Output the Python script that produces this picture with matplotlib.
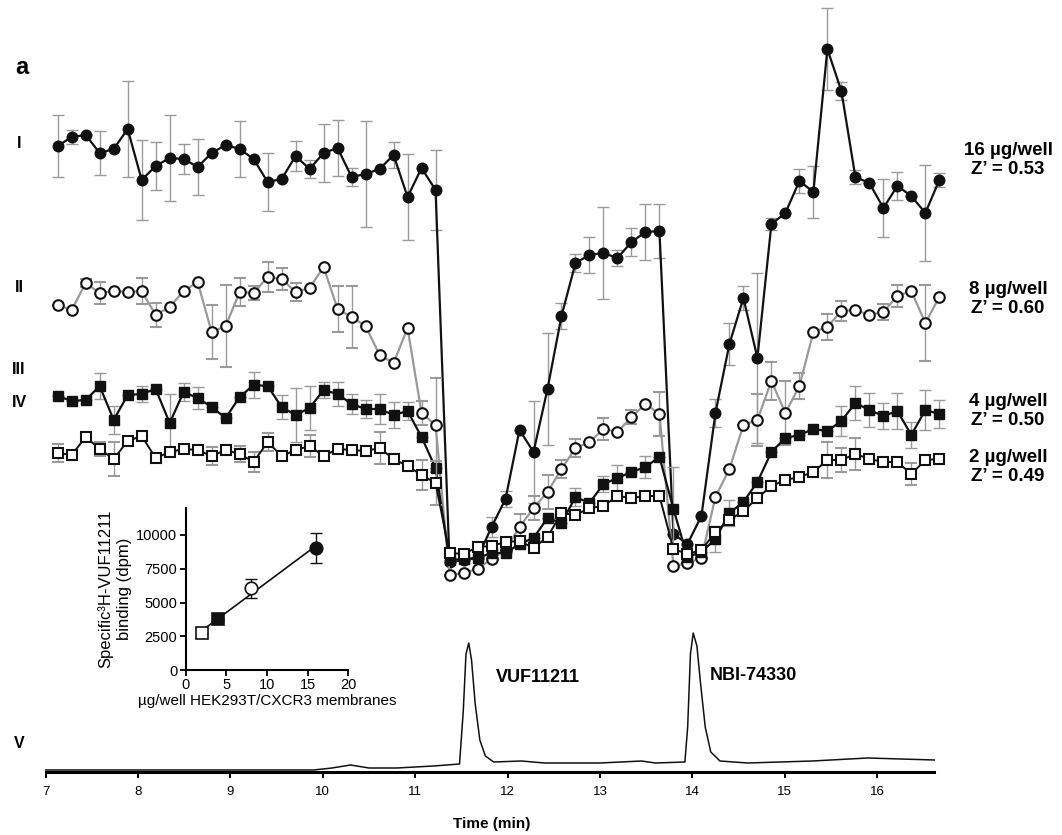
import numpy as np
import matplotlib
matplotlib.use("Agg")
import matplotlib.pyplot as plt

plt.rcParams["font.family"] = ["Liberation Sans", "DejaVu Sans"]

# fraction collection times (min)
t = 7.13 + 0.1515 * np.arange(64)

# binding signal per fraction, arbitrary display units (stacked traces)
sig_16 = [626, 635, 637, 619, 623, 643, 592, 606, 614, 613, 605, 619, 627, 623, 613, 590,
          593, 616, 603, 619, 624, 595, 598, 603, 617, 575, 604, 582, 210, 212, 214, 245,
          273, 342, 320, 383, 456, 509, 517, 519, 514, 530, 540, 541, 238, 228, 256, 359,
          428, 474, 414, 548, 559, 591, 580, 723, 681, 595, 589, 564, 586, 576, 559, 592]
err_16 = [31, 7, 0, 22, 0, 48, 40, 24, 43, 15, 28, 0, 0, 28, 0, 29,
          0, 15, 9, 29, 28, 9, 53, 0, 13, 43, 0, 40, 0, 0, 0, 10,
          8, 0, 51, 56, 13, 9, 18, 46, 8, 14, 28, 27, 0, 0, 0, 14,
          21, 12, 85, 6, 0, 12, 26, 41, 9, 7, 0, 29, 14, 0, 48, 7]

sig_8 = [467, 462, 489, 479, 481, 480, 481, 457, 465, 481, 490, 440, 446, 480, 479, 495,
         493, 480, 484, 505, 463, 455, 446, 417, 409, 444, 359, 347, 197, 199, 203, 213,
         222, 245, 264, 280, 303, 324, 330, 343, 340, 355, 368, 358, 206, 209, 214, 275,
         303, 347, 352, 391, 359, 386, 440, 445, 461, 462, 457, 460, 476, 481, 449, 475]
err_8 = [0, 0, 4, 11, 0, 0, 13, 12, 0, 0, 0, 27, 41, 14, 7, 15,
         11, 9, 0, 0, 23, 31, 0, 0, 0, 0, 12, 47, 0, 0, 0, 0,
         0, 13, 12, 17, 9, 9, 0, 11, 0, 7, 0, 22, 0, 0, 0, 0,
         0, 0, 26, 19, 32, 13, 0, 13, 10, 0, 0, 8, 11, 0, 38, 0]

sig_4 = [376, 371, 372, 386, 352, 377, 378, 383, 349, 380, 374, 365, 354, 375, 387, 386,
         365, 357, 364, 382, 378, 368, 363, 363, 357, 361, 335, 304, 212, 213, 214, 219,
         219, 228, 234, 254, 249, 275, 269, 288, 294, 300, 305, 315, 263, 215, 220, 233,
         259, 270, 290, 320, 334, 337, 343, 341, 351, 369, 362, 356, 361, 337, 362, 358]
err_4 = [0, 0, 0, 13, 14, 0, 8, 0, 29, 9, 11, 0, 0, 0, 13, 0,
         12, 27, 22, 8, 12, 10, 9, 15, 13, 9, 0, 0, 0, 0, 0, 0,
         0, 0, 0, 0, 0, 9, 0, 8, 13, 0, 11, 0, 42, 0, 0, 13,
         13, 0, 0, 0, 0, 0, 0, 0, 15, 17, 17, 13, 18, 13, 20, 14]

sig_2 = [319, 317, 335, 323, 313, 331, 336, 314, 320, 323, 322, 316, 322, 318, 310, 330,
         316, 322, 326, 316, 323, 322, 321, 324, 313, 306, 297, 289, 219, 218, 225, 226,
         230, 231, 224, 235, 259, 257, 264, 266, 276, 274, 276, 276, 223, 218, 222, 240,
         252, 261, 274, 286, 292, 295, 300, 312, 312, 318, 313, 310, 310, 298, 312, 313]
err_2 = [9, 0, 0, 7, 17, 0, 0, 0, 0, 0, 0, 9, 0, 8, 10, 9,
         0, 0, 11, 0, 0, 0, 0, 16, 0, 0, 15, 22, 0, 0, 0, 0,
         0, 0, 0, 0, 0, 0, 0, 0, 0, 0, 0, 0, 0, 0, 0, 0,
         0, 0, 0, 0, 0, 0, 0, 18, 12, 16, 0, 0, 0, 11, 0, 0]

# UV chromatogram (time, absorbance in display units)
uv_t = [7.0, 8.0, 9.0, 9.9, 10.1, 10.3, 10.5, 10.8, 11.2, 11.48, 11.52, 11.55, 11.58,
        11.61, 11.65, 11.70, 11.76, 11.85, 12.15, 12.4, 13.0, 13.45, 13.6, 13.92, 13.95,
        13.98, 14.01, 14.05, 14.09, 14.14, 14.2, 14.3, 14.6, 15.3, 15.9, 16.62]
uv_a = [2, 2, 2, 2, 4, 7, 4, 4, 6, 8, 60, 118, 129,
        112, 68, 32, 16, 10, 11, 9, 9, 11, 9, 10, 45,
        118, 139, 126, 88, 45, 20, 11, 9, 11, 14, 12]

# inset: specific binding vs membrane amount
ins_x = [2, 4, 8, 16]
ins_y = [2720, 3750, 6050, 9010]
ins_err = [0, 0, 720, 1110]

fig = plt.figure(figsize=(10.62, 8.35), dpi=100)
W, H = 1062, 835
x0_px, px_per_min = 45.7, 92.37
xl = (6.9, 16.75)
left = x0_px + (xl[0] - 7) * px_per_min
right = x0_px + (xl[1] - 7) * px_per_min
ax = fig.add_axes([left / W, (H - 772) / H, (right - left) / W, 772 / H])
ax.set_xlim(*xl)
ax.set_ylim(0, 772)

ecol = "#9a9a9a"
common = dict(ecolor=ecol, elinewidth=1.0, capsize=4, capthick=1.0, ms=7.6)
ax.errorbar(t, sig_16, yerr=err_16, fmt="-o", color="#111111", lw=1.6,
            mfc="#111111", mec="#111111", zorder=3, **common)
ax.errorbar(t, sig_8, yerr=err_8, fmt="-o", color="#999999", lw=1.6,
            mfc="white", mec="#111111", mew=1.5, zorder=4, **common)
ax.errorbar(t, sig_4, yerr=err_4, fmt="-s", color="#111111", lw=1.6,
            mfc="#111111", mec="#111111", zorder=5, **common)
ax.errorbar(t, sig_2, yerr=err_2, fmt="-s", color="#111111", lw=1.4,
            mfc="white", mec="#111111", mew=1.5, zorder=6, **common)

ax.plot(uv_t, uv_a, color="#111111", lw=1.1, zorder=2)

for s in ("left", "top", "right"):
    ax.spines[s].set_visible(False)
ax.spines["bottom"].set_linewidth(2.2)
ax.spines["bottom"].set_bounds(7, 16.62)
ax.set_yticks([])
ax.set_xticks(range(7, 17))
ax.tick_params(axis="x", direction="out", length=4, width=1.4, labelsize=9.5, pad=6)
ax.set_xlabel("Time (min)", fontsize=11, fontweight="bold", labelpad=14)

# panel letter and trace labels
fig.text(22 / W, 1 - 68 / H, "a", fontsize=17, fontweight="bold", ha="center", va="center")
for lab, ypx in [("I", 143), ("II", 288), ("III", 369), ("IV", 402), ("V", 743)]:
    fig.text(19 / W, 1 - ypx / H, lab, fontsize=11.5, fontweight="bold", ha="center", va="center")

for (l1, l2), ypx in [(("16 µg/well", "Z’ = 0.53"), 160), (("8 µg/well", "Z’ = 0.60"), 299),
                      (("4 µg/well", "Z’ = 0.50"), 411), (("2 µg/well", "Z’ = 0.49"), 467)]:
    fig.text(1008 / W, 1 - ypx / H, l1 + "\n" + l2, fontsize=13.5, fontweight="bold",
             ha="center", va="center", linespacing=1.2)

ax.text(11.87, 94, "VUF11211", fontsize=13, fontweight="bold", ha="left", va="center")
ax.text(14.19, 96, "NBI-74330", fontsize=13, fontweight="bold", ha="left", va="center")

# inset
ia = fig.add_axes([185.7 / W, (H - 670) / H, 162.6 / W, 162 / H])
ia.set_xlim(0, 20)
ia.set_ylim(0, 12000)
coef = np.polyfit(ins_x, ins_y, 1)
ia.plot([ins_x[0], ins_x[-1]], np.polyval(coef, [ins_x[0], ins_x[-1]]), color="#111111", lw=1.2, zorder=2)
ia.errorbar(ins_x, ins_y, yerr=ins_err, fmt="none", ecolor="#111111", elinewidth=1.0,
            capsize=4, capthick=1.0, zorder=3)
styles = [("s", "white"), ("s", "#111111"), ("o", "white"), ("o", "#111111")]
for xi, yi, (m, fc) in zip(ins_x, ins_y, styles):
    ia.plot(xi, yi, m, ms=9, mfc=fc, mec="#111111", mew=1.2, zorder=4)
for s in ("top", "right"):
    ia.spines[s].set_visible(False)
for s in ("left", "bottom"):
    ia.spines[s].set_linewidth(1.5)
ia.set_xticks([0, 5, 10, 15, 20])
ia.set_yticks([0, 2500, 5000, 7500, 10000])
ia.tick_params(direction="out", length=4, width=1.3, labelsize=10.5, pad=2)
ia.set_xlabel("µg/well HEK293T/CXCR3 membranes", fontsize=11, labelpad=1)
ia.set_ylabel("Specific³H-VUF11211\nbinding (dpm)", fontsize=12, labelpad=3, linespacing=1.3)

fig.savefig("out.png", dpi=100)
